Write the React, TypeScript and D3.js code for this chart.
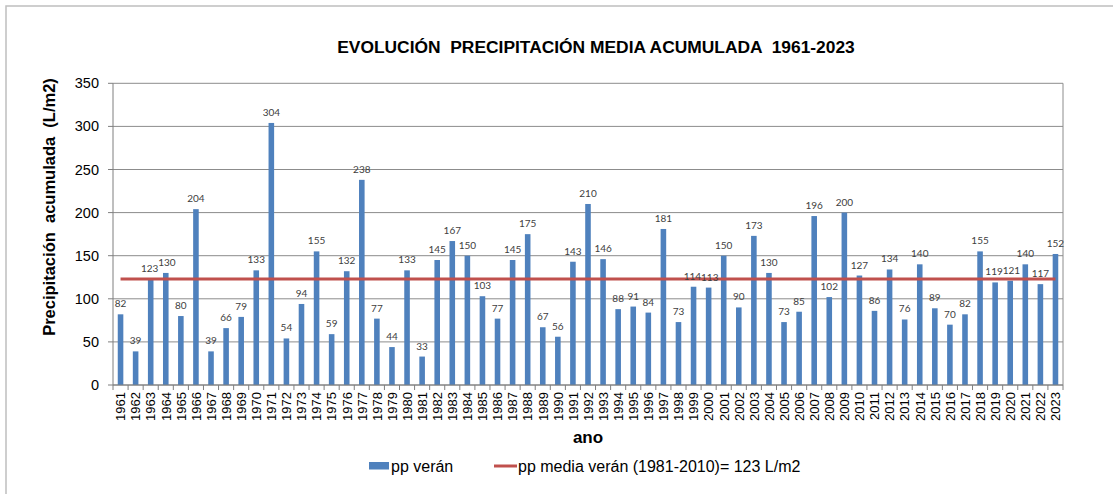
import React from "react";
import * as d3 from "d3";

const years: string[] = [
  "1961","1962","1963","1964","1965","1966","1967","1968","1969","1970",
  "1971","1972","1973","1974","1975","1976","1977","1978","1979","1980",
  "1981","1982","1983","1984","1985","1986","1987","1988","1989","1990",
  "1991","1992","1993","1994","1995","1996","1997","1998","1999","2000",
  "2001","2002","2003","2004","2005","2006","2007","2008","2009","2010",
  "2011","2012","2013","2014","2015","2016","2017","2018","2019","2020",
  "2021","2022","2023",
];
const ppVeran: number[] = [
  82, 39, 123, 130, 80, 204, 39, 66, 79, 133,
  304, 54, 94, 155, 59, 132, 238, 77, 44, 133,
  33, 145, 167, 150, 103, 77, 145, 175, 67, 56,
  143, 210, 146, 88, 91, 84, 181, 73, 114, 113,
  150, 90, 173, 130, 73, 85, 196, 102, 200, 127,
  86, 134, 76, 140, 89, 70, 82, 155, 119, 121,
  140, 117, 152,
];
const mediaValue = 123;
const yTicks: number[] = [0, 50, 100, 150, 200, 250, 300, 350];

const title = "EVOLUCIÓN  PRECIPITACIÓN MEDIA ACUMULADA  1961-2023";
const yTitle = "Precipitación  acumulada  (L/m2)";
const xTitle = "ano";
const legendBar = "pp verán";
const legendLine = "pp media verán (1981-2010)= 123 L/m2";

const W = 1113;
const H = 494;
const plot = { left: 113, right: 1063, top: 83.3, bottom: 385 };
const BLUE = "#4F81BD";
const RED = "#C0504D";
const FONT = "'Liberation Sans', Arial, sans-serif";
const LABEL_FS = 10;

export default function App() {
  const x = d3.scaleBand<string>().domain(years).range([plot.left, plot.right]).paddingInner(0).paddingOuter(0);
  const y = d3.scaleLinear().domain([0, 350]).range([plot.bottom, plot.top]);
  const bw = x.bandwidth();
  const barW = bw * 0.37;
  const cx = (yr: string) => (x(yr) as number) + bw / 2;

  const lineGen = d3.line<string>().x((d) => cx(d)).y(() => y(mediaValue));
  const meanPath = lineGen([years[0], years[years.length - 1]]) || "";

  // label positions with simple collision nudging between neighbours
  const labelX = years.map((yr) => cx(yr));
  const labelW = ppVeran.map((v) => String(v).length * LABEL_FS * 0.56);
  for (let i = 1; i < years.length; i++) {
    const dy = Math.abs(y(ppVeran[i]) - y(ppVeran[i - 1]));
    if (dy < LABEL_FS) {
      const gap = labelX[i] - labelX[i - 1] - (labelW[i] + labelW[i - 1]) / 2;
      if (gap < 0.5) {
        const shift = (0.5 - gap) / 2;
        labelX[i - 1] -= shift;
        labelX[i] += shift;
      }
    }
  }

  return (
    <svg width={W} height={H} style={{ position: "absolute", left: 0, top: 0, background: "#fff" }} fontFamily={FONT}>
      <rect x={6} y={6} width={W + 20} height={H + 20} fill="#fff" stroke="#bfbfbf" strokeWidth={1.5} />
      <text x={596} y={53} textAnchor="middle" fontSize={17.4} fontWeight="bold" fill="#000" style={{ whiteSpace: "pre" }}>
        {title}
      </text>

      {/* gridlines */}
      {yTicks.map((t) => (
        <line key={"g" + t} x1={plot.left} x2={plot.right} y1={y(t)} y2={y(t)} stroke="#8c8c8c" strokeWidth={1} />
      ))}
      <line x1={plot.right} x2={plot.right} y1={plot.top} y2={plot.bottom} stroke="#8c8c8c" strokeWidth={1} />
      <line x1={plot.left} x2={plot.left} y1={plot.top} y2={plot.bottom} stroke="#7f7f7f" strokeWidth={1} />

      {/* y ticks */}
      {yTicks.map((t) => (
        <g key={"t" + t}>
          <line x1={plot.left - 5} x2={plot.left} y1={y(t)} y2={y(t)} stroke="#7f7f7f" />
          <text x={plot.left - 14} y={y(t) + 5} textAnchor="end" fontSize={14.5} fill="#000">
            {t}
          </text>
        </g>
      ))}

      {/* bars */}
      {years.map((yr, i) => (
        <rect key={"b" + yr} x={cx(yr) - barW / 2} y={y(ppVeran[i])} width={barW} height={y(0) - y(ppVeran[i])} fill={BLUE} />
      ))}

      {/* mean line */}
      <path d={meanPath} stroke={RED} strokeWidth={3} fill="none" />

      {/* data labels */}
      {years.map((yr, i) => (
        <text key={"l" + yr} x={labelX[i]} y={y(ppVeran[i]) - 7} textAnchor="middle" fontSize={LABEL_FS} fill="#404040" fontFamily="Lato, 'Open Sans', sans-serif">
          {ppVeran[i]}
        </text>
      ))}

      {/* x axis */}
      <line x1={plot.left} x2={plot.right} y1={plot.bottom} y2={plot.bottom} stroke="#7f7f7f" />
      {years.map((yr) => (
        <line key={"xt" + yr} x1={x(yr) as number} x2={x(yr) as number} y1={plot.bottom} y2={plot.bottom + 5} stroke="#7f7f7f" />
      ))}
      <line x1={plot.right} x2={plot.right} y1={plot.bottom} y2={plot.bottom + 5} stroke="#7f7f7f" />
      {years.map((yr) => (
        <text key={"xl" + yr} transform={`translate(${cx(yr) + 4.8},${plot.bottom + 7}) rotate(-90)`} textAnchor="end" fontSize={13} fill="#000">
          {yr}
        </text>
      ))}

      <text x={588} y={443} textAnchor="middle" fontSize={17} fontWeight="bold" fill="#000">
        {xTitle}
      </text>
      <text transform={`translate(55,207) rotate(-90)`} textAnchor="middle" fontSize={16.5} fontWeight="bold" fill="#000" style={{ whiteSpace: "pre" }}>
        {yTitle}
      </text>

      {/* legend */}
      <rect x={369} y={462} width={20} height={7.5} fill={BLUE} />
      <text x={391} y={471.5} fontSize={16} fill="#000">{legendBar}</text>
      <line x1={494} x2={517} y1={466} y2={466} stroke={RED} strokeWidth={3} />
      <text x={518} y={471.5} fontSize={16} fill="#000">{legendLine}</text>
    </svg>
  );
}
